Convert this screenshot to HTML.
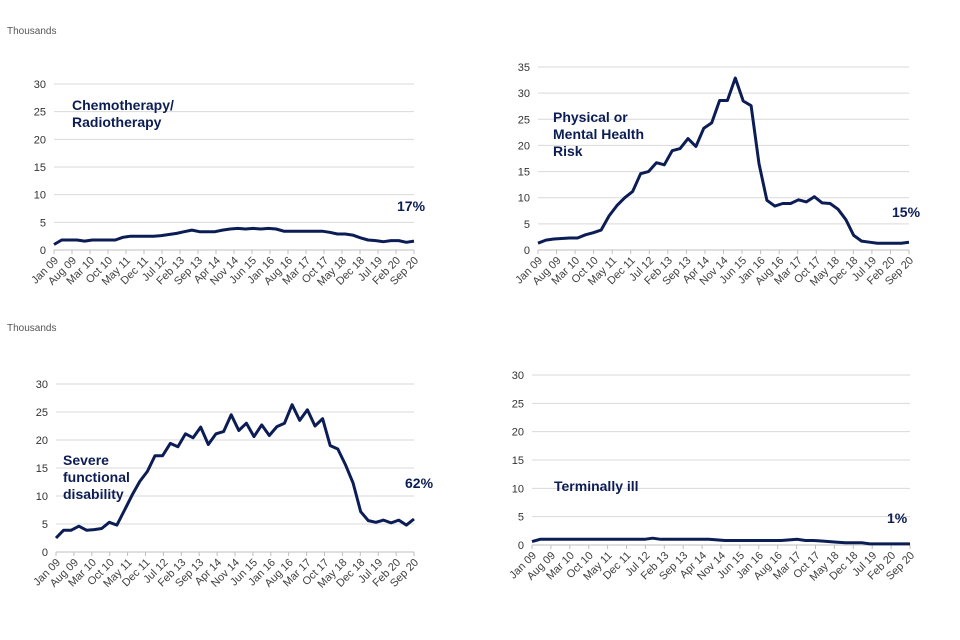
<!DOCTYPE html>
<html><head><meta charset="utf-8">
<style>
body{margin:0;background:#fff;}
svg{display:block;font-family:"Liberation Sans",Arial,sans-serif;}
.ytick{font-size:11px;fill:#333;text-anchor:end;}
.xtick{font-size:11px;fill:#404040;text-anchor:end;}
.ttl{font-size:14px;font-weight:bold;fill:#0c1d55;}
.pct{font-size:14px;font-weight:bold;fill:#0c1d55;}
.unit{font-size:10px;fill:#555;}
</style></head>
<body>
<svg id="chart" width="960" height="640" viewBox="0 0 960 640">
<text class="unit" x="7" y="34">Thousands</text>
<text class="unit" x="7" y="331">Thousands</text>
</svg>
<script>
const tickLabels = ["Jan 09","Aug 09","Mar 10","Oct 10","May 11","Dec 11","Jul 12","Feb 13","Sep 13","Apr 14","Nov 14","Jun 15","Jan 16","Aug 16","Mar 17","Oct 17","May 18","Dec 18","Jul 19","Feb 20","Sep 20"];
const chemoValues = [1.0,1.8,1.8,1.8,1.6,1.8,1.8,1.8,1.8,2.3,2.5,2.5,2.5,2.5,2.6,2.8,3.0,3.3,3.6,3.3,3.3,3.3,3.6,3.8,3.9,3.8,3.9,3.8,3.9,3.8,3.4,3.4,3.4,3.4,3.4,3.4,3.2,2.9,2.9,2.7,2.2,1.8,1.7,1.5,1.7,1.7,1.4,1.6];
const physicalValues = [1.3,1.9,2.1,2.2,2.3,2.3,2.9,3.3,3.8,6.5,8.5,10.0,11.2,14.6,15.0,16.7,16.3,19.0,19.4,21.3,19.8,23.3,24.3,28.6,28.6,32.9,28.5,27.6,16.5,9.5,8.4,8.9,8.9,9.6,9.2,10.2,9.0,8.9,7.8,5.8,2.8,1.7,1.5,1.3,1.3,1.3,1.3,1.5];
const severeValues = [2.5,3.9,3.9,4.6,3.9,4.0,4.2,5.3,4.8,7.5,10.2,12.6,14.4,17.2,17.2,19.4,18.8,21.1,20.4,22.3,19.2,21.1,21.5,24.5,21.7,23.0,20.6,22.7,20.8,22.4,23.0,26.3,23.5,25.4,22.5,23.8,19.0,18.4,15.6,12.3,7.2,5.6,5.3,5.7,5.2,5.7,4.8,5.9];
const terminalValues = [0.6,1.0,1.0,1.0,1.0,1.0,1.0,1.0,1.0,1.0,1.0,1.0,1.0,1.0,1.0,1.2,1.0,1.0,1.0,1.0,1.0,1.0,1.0,0.9,0.8,0.8,0.8,0.8,0.8,0.8,0.8,0.8,0.9,1.0,0.8,0.8,0.7,0.6,0.5,0.4,0.4,0.4,0.2,0.2,0.2,0.2,0.2,0.2];
const yTicksA = [0,5,10,15,20,25,30];
const yTicksB = [0,5,10,15,20,25,30,35];

const NS = "http://www.w3.org/2000/svg";
const svg = document.getElementById('chart');
function el(tag, attrs, parent){const e=document.createElementNS(NS,tag);for(const k in attrs)e.setAttribute(k,attrs[k]);(parent||svg).appendChild(e);return e;}

function drawPanel(cfg){
  const g = el('g',{});
  
  
  const yMax = cfg.yTicks[cfg.yTicks.length-1];
  const yS = v => cfg.y0 - (v/yMax)*(cfg.y0-cfg.yTop);
  const xS = i => cfg.x0 + (i/(cfg.values.length-1))*(cfg.x1-cfg.x0);
  const xT = i => cfg.x0 + (i/(tickLabels.length-1))*(cfg.x1-cfg.x0);
  cfg.yTicks.forEach(t=>{
    const ln = el('line',{x1:cfg.x0,x2:cfg.x1,y1:yS(t),y2:yS(t),stroke:'#d9d9d9','stroke-width':1},g);
    
    
    const tx = el('text',{x:cfg.x0-8,y:yS(t)+4,class:'ytick'},g);
    tx.textContent = t;
    
    
  });
  const ax = el('line',{x1:cfg.x0,x2:cfg.x1,y1:cfg.y0,y2:cfg.y0,stroke:'#bfbfbf','stroke-width':1},g);
  
  
  tickLabels.forEach((lab,i)=>{
    const x = xT(i);
    el('line',{x1:x,x2:x,y1:cfg.y0,y2:cfg.y0+4,stroke:'#bfbfbf'},g);
    const tx = el('text',{class:'xtick',transform:`translate(${x+5},${cfg.y0+11}) rotate(-45)`},g);
    tx.textContent = lab;
    
    
  });
  const d = cfg.values.map((v,i)=>(i?'L':'M')+xS(i).toFixed(1)+','+yS(v).toFixed(1)).join(' ');
  const p = el('path',{d:d,fill:'none',stroke:'#0c1d55','stroke-width':3,'stroke-linejoin':'round'},g);
  
  
  const t = el('text',{class:'ttl',x:cfg.tx,y:cfg.ty},g);
  
  
  cfg.title.forEach((s,i)=>{const ts=el('tspan',{x:cfg.tx,dy:i?17:0},t);ts.textContent=s;});
  const pc = el('text',{class:'pct',x:cfg.px,y:cfg.py},g);
  pc.textContent = cfg.pct;
  
  
}

drawPanel({name:'chemotherapy',values:chemoValues,yTicks:yTicksA,x0:54,x1:414,y0:250,yTop:84,title:['Chemotherapy/','Radiotherapy'],tx:72,ty:110,pct:'17%',px:397,py:211});
drawPanel({name:'physical-mental-health',values:physicalValues,yTicks:yTicksB,x0:538,x1:909,y0:250,yTop:67,title:['Physical  or','Mental Health','Risk'],tx:553,ty:122,pct:'15%',px:892,py:217});
drawPanel({name:'severe-disability',values:severeValues,yTicks:yTicksA,x0:56,x1:414,y0:552,yTop:384,title:['Severe','functional','disability'],tx:63,ty:465,pct:'62%',px:405,py:488});
drawPanel({name:'terminally-ill',values:terminalValues,yTicks:yTicksA,x0:532,x1:910,y0:545,yTop:375,title:['Terminally ill'],tx:554,ty:491,pct:'1%',px:887,py:523});
</script>
</body></html>
